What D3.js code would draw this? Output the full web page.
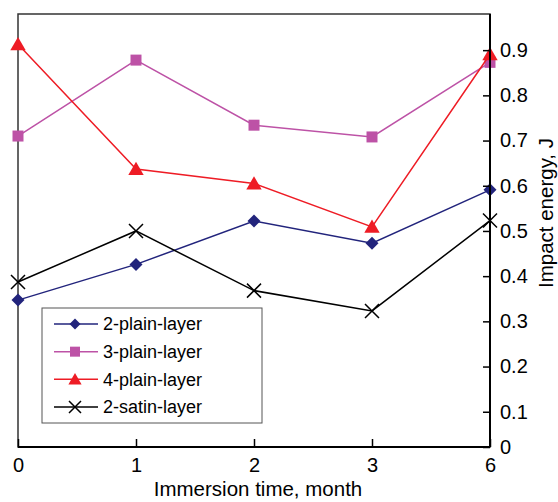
<!DOCTYPE html>
<html>
<head>
<meta charset="utf-8">
<script src="https://cdn.jsdelivr.net/npm/d3@7"></script>
<style>
  body { margin: 0; background: #fff; }
  svg { display: block; font-family: "Liberation Sans", Arial, sans-serif; }
  .axis path, .axis line { stroke: #000; stroke-width: 1.5; }
  .axis text { font-size: 20px; fill: #000; }
</style>
</head>
<body>
<svg id="chart" width="558" height="502"></svg>
<script>
// x categories (months)
const months = ['0', '1', '2', '3', '6'];

// impact energy, J
const plain2 = [0.347, 0.426, 0.522, 0.473, 0.591];
const plain3 = [0.710, 0.878, 0.734, 0.708, 0.873];
const plain4 = [0.913, 0.637, 0.605, 0.509, 0.891];
const satin2 = [0.387, 0.500, 0.368, 0.323, 0.523];

const seriesNames = ['2-plain-layer', '3-plain-layer', '4-plain-layer', '2-satin-layer'];
const yTicks = [0.1, 0.2, 0.3, 0.4, 0.5, 0.6, 0.7, 0.8, 0.9];

const series = [
    { name: seriesNames[0], values: plain2, color: '#22247c', shape: 'diamond' },
    { name: seriesNames[1], values: plain3, color: '#bd52a6', shape: 'square' },
    { name: seriesNames[2], values: plain4, color: '#ee1c25', shape: 'triangle' },
    { name: seriesNames[3], values: satin2, color: '#000000', shape: 'cross' }
];

const svg = d3.select('#chart');
const m = { left: 18, right: 490, top: 14, bottom: 447 };

// bottom of the axis sits a little above zero in the original
const yMin = 0.022, yMax = 0.98;

const x = d3.scalePoint().domain(months).range([m.left, m.right]).padding(0);
const y = d3.scaleLinear().domain([yMin, yMax]).range([m.bottom, m.top]);

function markerPath(shape, s) {
    if (shape === 'diamond') return `M0,${-s}L${s},0L0,${s}L${-s},0Z`;
    if (shape === 'square') return `M${-s},${-s}H${s}V${s}H${-s}Z`;
    if (shape === 'triangle') return `M0,${-s * 1.05}L${s * 1.1},${s * 0.85}L${-s * 1.1},${s * 0.85}Z`;
    return `M${-s},${-s}L${s},${s}M${-s},${s}L${s},${-s}`;
}
const markerSize = { diamond: 6.5, square: 5.5, triangle: 7, cross: 7 };

// frame
svg.append('rect')
    .attr('x', m.left).attr('y', m.top)
    .attr('width', m.right - m.left).attr('height', m.bottom - m.top)
    .attr('fill', 'none').attr('stroke', '#333').attr('stroke-width', 1.5);

// lines + markers
const line = d3.line()
    .x((d, i) => x(months[i]))
    .y(d => y(d));

series.forEach(s => {
    svg.append('path')
        .datum(s.values)
        .attr('d', line)
        .attr('fill', 'none')
        .attr('stroke', s.color)
        .attr('stroke-width', 1.5);

    svg.selectAll(null)
        .data(s.values)
        .join('path')
        .attr('transform', (d, i) => `translate(${x(months[i])},${y(d)})`)
        .attr('d', markerPath(s.shape, markerSize[s.shape]))
        .attr('fill', s.shape === 'cross' ? 'none' : s.color)
        .attr('stroke', s.shape === 'cross' ? s.color : 'none')
        .attr('stroke-width', 1.5);
});

// x axis (ticks pointing up into the plot)
const xAxis = svg.append('g')
    .attr('class', 'axis')
    .attr('transform', `translate(0,${m.bottom})`)
    .call(d3.axisTop(x).tickSizeInner(8).tickSizeOuter(0));
xAxis.select('.domain').remove();
xAxis.selectAll('text').attr('y', 25).attr('dy', 0);

// right axis (ticks pointing left)
const yAxis = svg.append('g')
    .attr('class', 'axis')
    .attr('transform', `translate(${m.right},0)`)
    .call(d3.axisLeft(y).tickValues([yMin].concat(yTicks))
        .tickFormat(d => d === yMin ? '0' : d3.format('.1f')(d))
        .tickSizeInner(7).tickSizeOuter(0));
yAxis.select('.domain').remove();
yAxis.selectAll('text').attr('x', 10).attr('text-anchor', 'start');

svg.append('line')
    .attr('x1', m.left).attr('x2', m.right)
    .attr('y1', m.bottom).attr('y2', m.bottom)
    .attr('stroke', '#000').attr('stroke-width', 2);
svg.append('line')
    .attr('x1', m.right).attr('x2', m.right)
    .attr('y1', m.top).attr('y2', m.bottom)
    .attr('stroke', '#000').attr('stroke-width', 2);

// axis titles
svg.append('text')
    .attr('x', 258).attr('y', 496)
    .attr('text-anchor', 'middle')
    .style('font-size', '20.5px')
    .text('Immersion time, month');

svg.append('text')
    .attr('transform', 'translate(553,213) rotate(-90)')
    .attr('text-anchor', 'middle')
    .style('font-size', '20.5px')
    .text('Impact energy, J');

// legend
const legend = svg.append('g');
legend.append('rect')
    .attr('x', 42).attr('y', 308)
    .attr('width', 220).attr('height', 115)
    .attr('fill', '#fff').attr('stroke', '#555').attr('stroke-width', 1);

const rowY = d3.scalePoint().domain(seriesNames).range([324, 407]);
const legendMarker = { diamond: 5.5, square: 5, triangle: 6, cross: 6 };

series.forEach(s => {
    const g = legend.append('g').attr('transform', `translate(0,${rowY(s.name)})`);
    g.append('line')
        .attr('x1', 54).attr('x2', 98)
        .attr('stroke', s.color).attr('stroke-width', 1.5);
    g.append('path')
        .attr('transform', 'translate(75,0)')
        .attr('d', markerPath(s.shape, legendMarker[s.shape]))
        .attr('fill', s.shape === 'cross' ? 'none' : s.color)
        .attr('stroke', s.shape === 'cross' ? s.color : 'none')
        .attr('stroke-width', 1.5);
    g.append('text')
        .attr('x', 103).attr('dy', '0.35em')
        .style('font-size', '18px')
        .text(s.name);
});
</script>
</body>
</html>
